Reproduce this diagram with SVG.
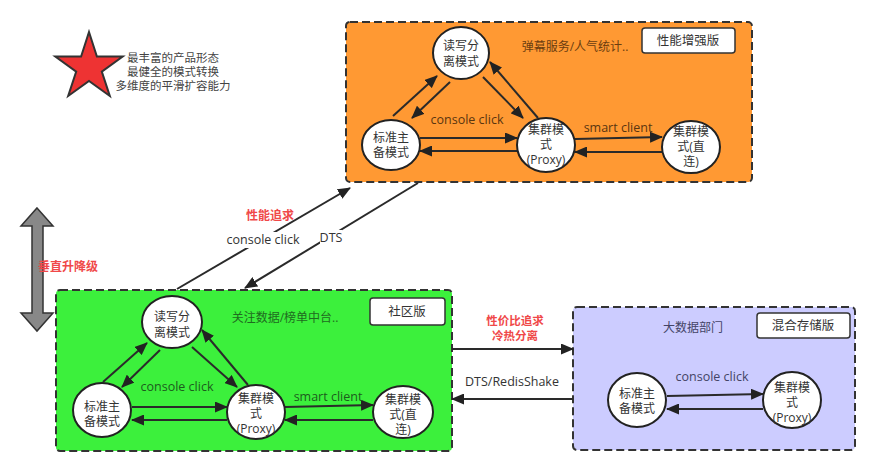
<svg xmlns="http://www.w3.org/2000/svg" width="878" height="473" viewBox="0 0 878 473">
<defs>
<marker id="ah" markerUnits="userSpaceOnUse" markerWidth="13" markerHeight="11" refX="12" refY="5.5" orient="auto">
<path d="M0,0 L13,5.5 L0,11 z" fill="#222"/>
</marker>
<style>
text{font-family:"Open Sans","Noto Sans CJK SC",sans-serif;text-anchor:middle;}
.zone{stroke:#333;stroke-width:2;stroke-dasharray:8 4;}
.node{fill:#fff;stroke:#222;stroke-width:2;}
.nt{font-size:12px;fill:#333;}
.tag{fill:#fff;stroke:#333;stroke-width:1.5;}
.tt{font-size:12.5px;fill:#333;}
.ln{stroke:#2a2a2a;stroke-width:2;fill:none;marker-end:url(#ah);}
.red{font-size:12px;font-weight:bold;fill:#F04848;}
.lbl{font-size:12.5px;}
</style>
</defs>
<rect width="878" height="473" fill="#fff"/>

<g id="legend">
<polygon points="89,32 96.9,56.5 122.7,56.5 101.8,71.6 109.8,96 89,80.9 68.2,96 76.2,71.6 55.3,56.5 81.1,56.5" fill="#EE3333" stroke="#333" stroke-width="2" stroke-linejoin="miter"/>
<text x="173" y="62" style="font-size:11.5px;fill:#444">最丰富的产品形态<tspan x="173" dy="14">最健全的模式转换</tspan><tspan x="173" dy="14">多维度的平滑扩容能力</tspan></text>
</g>

<g id="vertical">
<polygon points="37,208 53,226 43,226 43,313 53,313 37,331 21,313 32,313 32,226 21,226" fill="#888" stroke="#333" stroke-width="1.5"/>
<text x="68" y="271" class="red">垂直升降级</text>
</g>

<g id="zone-perf">
<rect x="346" y="22" width="406" height="160" rx="4" fill="#FF9933" class="zone"/>
<rect x="642" y="28" width="93" height="25" rx="3" class="tag"/>
<text x="688" y="45" class="tt">性能增强版</text>
<text x="575" y="51" style="font-size:12px;fill:#6b3d10">弹幕服务/人气统计..</text>
</g>

<g id="zone-community">
<rect x="56" y="290" width="396" height="161" rx="4" fill="#3CF03C" class="zone"/>
<rect x="370" y="298" width="75" height="27" rx="3" class="tag"/>
<text x="407" y="316" class="tt">社区版</text>
<text x="285" y="322" style="font-size:12px;fill:#1f6b1f">关注数据/榜单中台..</text>
</g>

<g id="zone-hybrid">
<rect x="573" y="307" width="282" height="143" rx="4" fill="#CCCCFF" class="zone"/>
<rect x="757" y="313" width="93" height="25" rx="3" class="tag"/>
<text x="803" y="330" class="tt">混合存储版</text>
<text x="693" y="332" style="font-size:12px;fill:#444466">大数据部门</text>
</g>

<g id="connectors">
<line x1="393" y1="116" x2="437" y2="76" class="ln"/>
<line x1="450" y1="82" x2="412" y2="118" class="ln"/>
<line x1="483" y1="77" x2="523" y2="118" class="ln"/>
<line x1="538" y1="118" x2="490" y2="62" class="ln"/>
<line x1="420" y1="138" x2="517" y2="138" class="ln"/>
<line x1="517" y1="151" x2="420" y2="151" class="ln"/>
<line x1="575" y1="139" x2="662" y2="137" class="ln"/>
<line x1="662" y1="152" x2="575" y2="152" class="ln"/>
<line x1="103" y1="382" x2="147" y2="343" class="ln"/>
<line x1="160" y1="350" x2="122" y2="387" class="ln"/>
<line x1="192" y1="347" x2="237" y2="387" class="ln"/>
<line x1="248" y1="385" x2="202" y2="330" class="ln"/>
<line x1="132" y1="407" x2="227" y2="407" class="ln"/>
<line x1="227" y1="420" x2="132" y2="420" class="ln"/>
<line x1="285" y1="407" x2="373" y2="405" class="ln"/>
<line x1="373" y1="420" x2="285" y2="420" class="ln"/>
<line x1="667" y1="396" x2="763" y2="394" class="ln"/>
<line x1="763" y1="409" x2="667" y2="409" class="ln"/>
<line x1="452" y1="349" x2="573" y2="349" class="ln"/>
<line x1="573" y1="399" x2="452" y2="399" class="ln"/>
<line x1="177" y1="289" x2="350" y2="188" class="ln"/>
<line x1="418" y1="183" x2="245" y2="288" class="ln"/>
<rect x="233" y="232" width="60" height="16" fill="#fff"/>
<rect x="320" y="230" width="22" height="16" fill="#fff"/>
<text x="263" y="244" class="lbl" fill="#333">console click</text>
<text x="331" y="242" class="lbl" fill="#333">DTS</text>
<text x="270" y="220" class="red">性能追求</text>
<text x="515" y="325" class="red" style="font-size:11.5px">性价比追求<tspan x="515" dy="15">冷热分离</tspan></text>
<text x="512" y="386" class="lbl" fill="#333">DTS/RedisShake</text>
<text x="467" y="124" class="lbl" fill="#5a3510">console click</text>
<text x="618" y="132" class="lbl" fill="#5a3510">smart client</text>
<text x="177" y="391" class="lbl" fill="#1c5c1c">console click</text>
<text x="328" y="401" class="lbl" fill="#1c5c1c">smart client</text>
<text x="712" y="381" class="lbl" fill="#444466">console click</text>
</g>

<g id="p-rw"><ellipse cx="461" cy="53" rx="28" ry="26" class="node"/><text x="461" y="50" class="nt">读写分<tspan x="461" dy="16">离模式</tspan></text></g>
<g id="p-std"><ellipse cx="391" cy="145" rx="29" ry="25" class="node"/><text x="391" y="142" class="nt">标准主<tspan x="391" dy="15">备模式</tspan></text></g>
<g id="p-proxy"><ellipse cx="546" cy="145" rx="29" ry="27" class="node"/><text x="546" y="134" class="nt">集群模<tspan x="546" dy="15">式</tspan><tspan x="546" dy="15">(Proxy)</tspan></text></g>
<g id="p-direct"><ellipse cx="691" cy="147" rx="29" ry="26" class="node"/><text x="691" y="136" class="nt">集群模<tspan x="691" dy="15">式(直</tspan><tspan x="691" dy="15">连)</tspan></text></g>

<g id="c-rw"><ellipse cx="172" cy="322" rx="30" ry="26" class="node"/><text x="172" y="321" class="nt">读写分<tspan x="172" dy="16">离模式</tspan></text></g>
<g id="c-std"><ellipse cx="102" cy="410" rx="29" ry="27" class="node"/><text x="102" y="411" class="nt">标准主<tspan x="102" dy="15">备模式</tspan></text></g>
<g id="c-proxy"><ellipse cx="256" cy="412" rx="29" ry="27" class="node"/><text x="256" y="403" class="nt">集群模<tspan x="256" dy="15">式</tspan><tspan x="256" dy="15">(Proxy)</tspan></text></g>
<g id="c-direct"><ellipse cx="403" cy="412" rx="30" ry="26" class="node"/><text x="403" y="404" class="nt">集群模<tspan x="403" dy="15">式(直</tspan><tspan x="403" dy="15">连)</tspan></text></g>

<g id="h-std"><ellipse cx="637" cy="400" rx="29" ry="27" class="node"/><text x="637" y="398" class="nt">标准主<tspan x="637" dy="15">备模式</tspan></text></g>
<g id="h-proxy"><ellipse cx="792" cy="400" rx="29" ry="28" class="node"/><text x="792" y="392" class="nt">集群模<tspan x="792" dy="15">式</tspan><tspan x="792" dy="15">(Proxy)</tspan></text></g>
</svg>
